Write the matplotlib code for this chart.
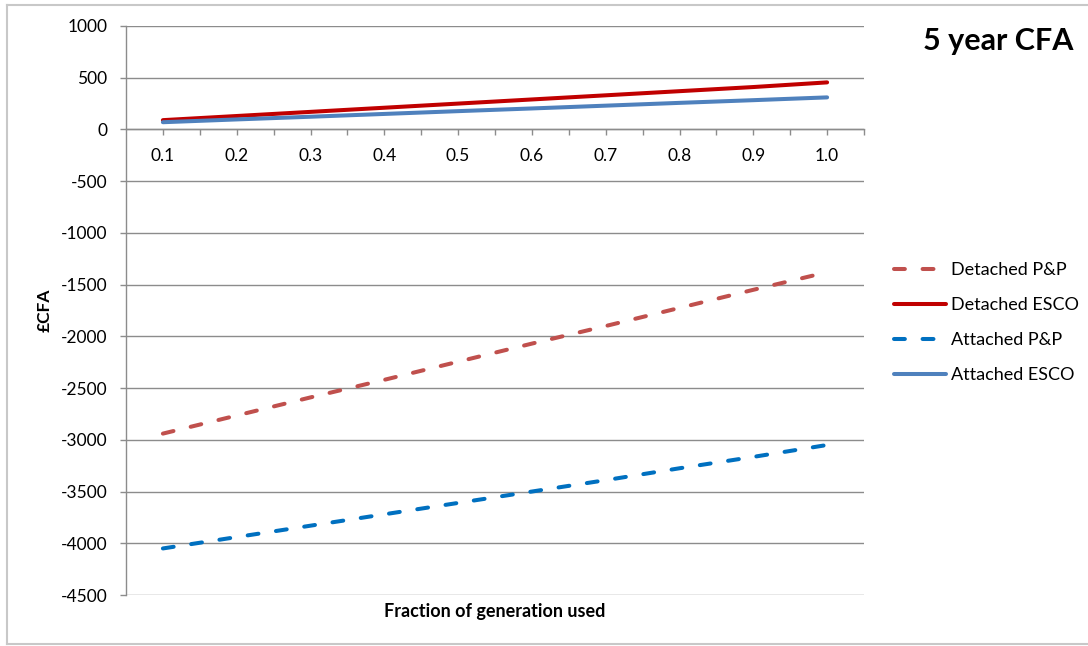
import numpy as np
import matplotlib
matplotlib.use('Agg')
import matplotlib.pyplot as plt
from matplotlib.lines import Line2D

plt.rcParams['font.family'] = ['Lato', 'DejaVu Sans']
plt.rcParams['axes.unicode_minus'] = False

fraction = [0.1, 0.2, 0.3, 0.4, 0.5, 0.6, 0.7, 0.8, 0.9, 1.0]
tick_labels = ['0.1', '0.2', '0.3', '0.4', '0.5', '0.6', '0.7', '0.8', '0.9', '1.0']

detached_pp = [-2940, -2765, -2590, -2420, -2245, -2070, -1900, -1725, -1550, -1380]
detached_esco = [90, 130, 170, 210, 250, 290, 330, 370, 410, 455]
attached_pp = [-4050, -3940, -3830, -3720, -3610, -3500, -3390, -3275, -3165, -3050]
attached_esco = [70, 97, 123, 150, 177, 203, 230, 257, 283, 310]

W, H = 1088, 646
fig = plt.figure(figsize=(W / 100, H / 100), dpi=100)

# outer chart border (top, left, bottom)
border = dict(transform=fig.transFigure, color='#C8C8C8', lw=1.5)
fig.add_artist(Line2D([7 / W, 1.01], [1 - 5 / H, 1 - 5 / H], **border))
fig.add_artist(Line2D([7 / W, 7 / W], [1 - 5 / H, 1 - 644 / H], **border))
fig.add_artist(Line2D([7 / W, 1.01], [1 - 644 / H, 1 - 644 / H], **border))

ax = fig.add_axes([126 / W, (H - 595) / H, 738 / W, 569 / H])

grid_col = '#8C8C8C'
lw = 2.9
fs = 12.5

ax.plot(fraction, detached_pp, color='#C0504D', lw=lw, dashes=(2.7, 4.4),
        dash_capstyle='round', label='Detached P&P')
ax.plot(fraction, detached_esco, color='#C00000', lw=lw, solid_capstyle='round',
        label='Detached ESCO')
ax.plot(fraction, attached_pp, color='#0070C0', lw=lw, dashes=(2.7, 4.4),
        dash_capstyle='round', label='Attached P&P')
ax.plot(fraction, attached_esco, color='#4F81BD', lw=lw, solid_capstyle='round',
        label='Attached ESCO')

ax.set_xlim(0.05, 1.05)
ax.set_ylim(-4500, 1000)
ax.set_yticks(np.arange(-4500, 1001, 500))
ax.yaxis.grid(True, color=grid_col, lw=1)
ax.set_axisbelow(True)

# x axis sits on the zero line, ticks at centres and between categories
ax.spines['bottom'].set_position(('data', 0))
ax.spines['top'].set_visible(False)
ax.spines['right'].set_visible(False)
for s in ['left', 'bottom']:
    ax.spines[s].set_color(grid_col)
    ax.spines[s].set_linewidth(1)

ax.set_xticks(np.arange(0.1, 1.051, 0.05))
xt_labels = []
for i in range(len(ax.get_xticks())):
    xt_labels.append(tick_labels[i // 2] if i % 2 == 0 else '')
ax.set_xticklabels(xt_labels)
ax.tick_params(axis='x', direction='out', length=4, width=1, color=grid_col, pad=9, labelsize=fs)
ax.tick_params(axis='y', direction='out', length=4.5, width=1, color=grid_col, pad=9, labelsize=fs)

fig.text(495 / W, 1 - 611 / H, 'Fraction of generation used', ha='center', va='center',
         fontsize=13, fontweight='bold')
fig.text(45 / W, 1 - 310 / H, '£CFA', ha='center', va='center', rotation=90,
         fontsize=12.5, fontweight='bold')
fig.text(998 / W, 1 - 41 / H, '5 year CFA', ha='center', va='center',
         fontsize=22, fontweight='bold')

fig.legend(loc='upper left', bbox_to_anchor=(894 / W, 1 - 262 / H), frameon=False,
           fontsize=13, handlelength=2.9, handletextpad=0.28, labelspacing=1.06,
           borderaxespad=0, borderpad=0)

fig.savefig('out.png', dpi=100)
